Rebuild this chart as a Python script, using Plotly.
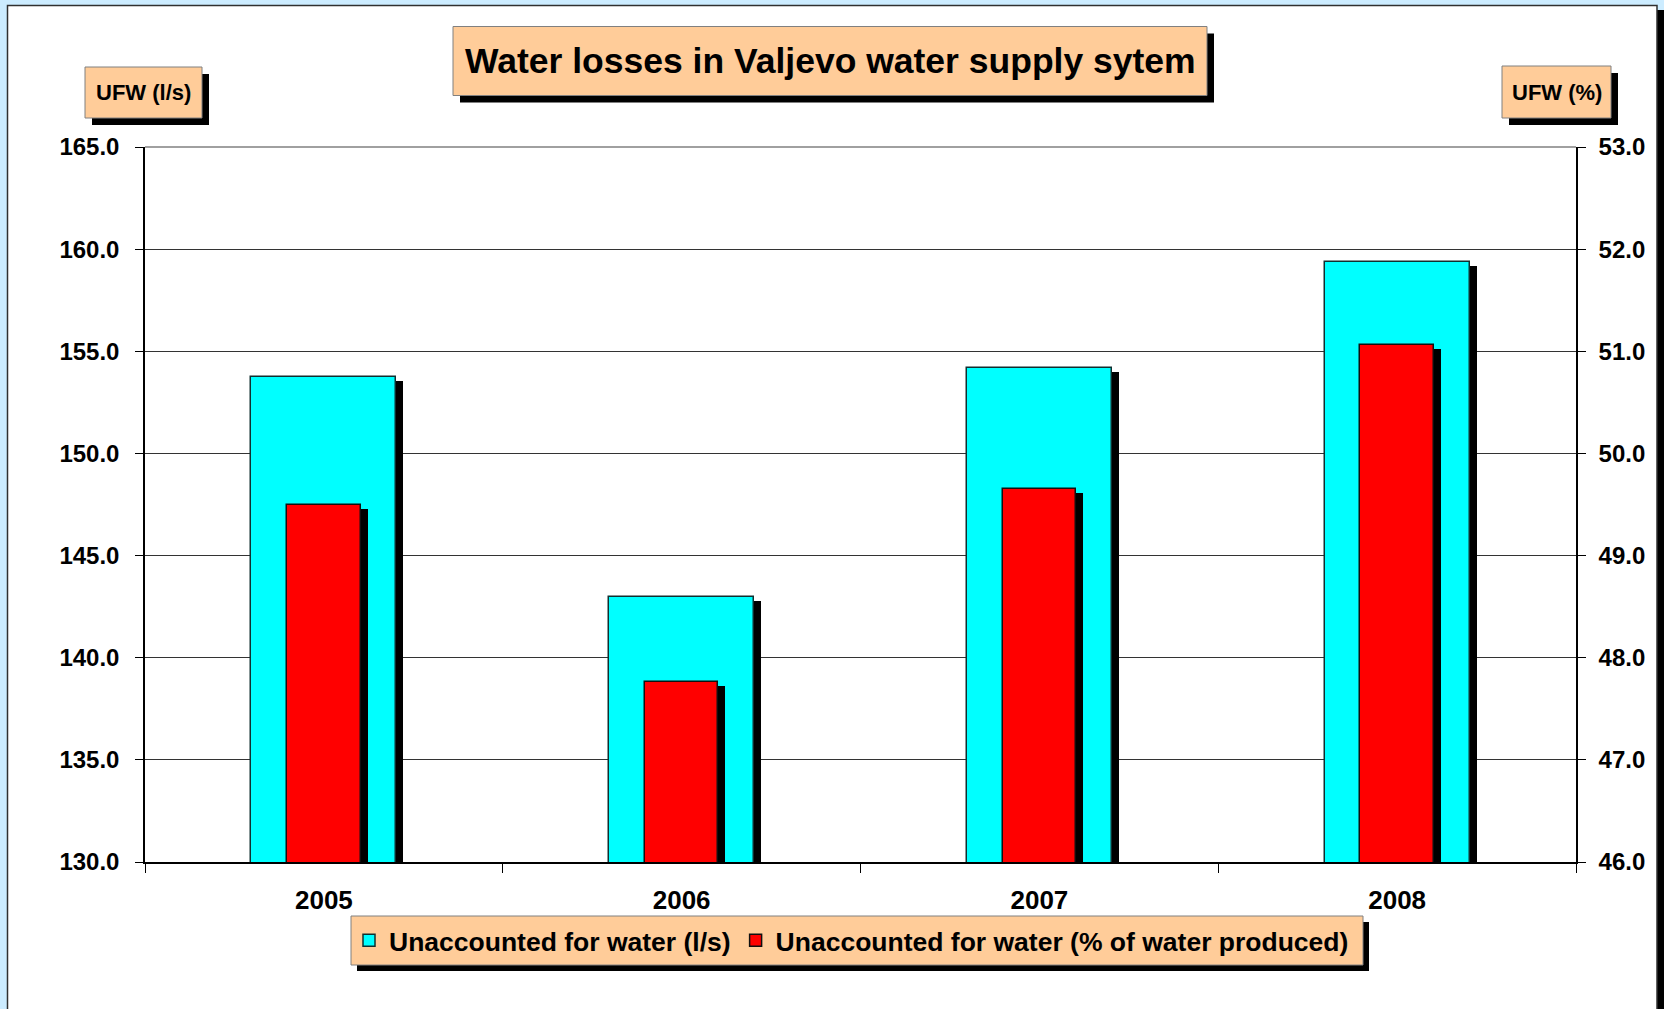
import plotly.graph_objects as go

# ---- data ----
years = ["2005", "2006", "2007", "2008"]
ufw_ls = [153.74, 142.97, 154.20, 159.36]      # Unaccounted for water (l/s), left axis
ufw_pct = [49.50, 47.76, 49.65, 51.06]         # Unaccounted for water (% of water produced), right axis
left_ticks = [130, 135, 140, 145, 150, 155, 160, 165]
right_ticks = [46, 47, 48, 49, 50, 51, 52, 53]

# ---- layout geometry (pixels) ----
FW, FH = 1664, 1009
L, R, T, B = 145, 1576, 147, 862
PW, PH = R - L, B - T

def px_x(p):
    return (p - L) / PW

def px_y(p):
    return (B - p) / PH

FONT = "Liberation Sans, Arial, sans-serif"
PEACH = "#FFCC99"

# shadow offsets expressed in axis units
cat_px = PW / len(years)
sh_dx = 7 / cat_px
sh_dy_left = 4 / (PH / (left_ticks[-1] - left_ticks[0]))
sh_dy_right = 4 / (PH / (right_ticks[-1] - right_ticks[0]))

w_c, w_r = 0.405, 0.205

fig = go.Figure()
fig.add_trace(go.Bar(x=years, y=[v - sh_dy_left for v in ufw_ls], width=w_c,
                     offset=-w_c / 2 + sh_dx, marker=dict(color="black", line=dict(width=0)),
                     showlegend=False, hoverinfo="skip", yaxis="y"))
fig.add_trace(go.Bar(x=years, y=ufw_ls, width=w_c, offset=-w_c / 2,
                     marker=dict(color="#00FFFF", line=dict(color="#103030", width=1.5)),
                     name="Unaccounted for water (l/s)", yaxis="y"))
fig.add_trace(go.Bar(x=years, y=[v - sh_dy_right for v in ufw_pct], width=w_r,
                     offset=-w_r / 2 + sh_dx, marker=dict(color="black", line=dict(width=0)),
                     showlegend=False, hoverinfo="skip", yaxis="y2"))
fig.add_trace(go.Bar(x=years, y=ufw_pct, width=w_r, offset=-w_r / 2,
                     marker=dict(color="#FF0000", line=dict(color="#101010", width=1.5)),
                     name="Unaccounted for water (% of water produced)", yaxis="y2"))

shapes = []
# page frame
shapes.append(dict(type="rect", xref="paper", yref="paper", x0=px_x(1657), x1=px_x(1664),
                   y0=px_y(10), y1=px_y(FH + 5), fillcolor="black", line=dict(width=0), layer="below"))
shapes.append(dict(type="rect", xref="paper", yref="paper", x0=px_x(7.5), x1=px_x(1657),
                   y0=px_y(5.5), y1=px_y(FH + 5), fillcolor="white",
                   line=dict(color="#303030", width=1.5), layer="below"))

def box_with_shadow(x0, y0, x1, y1, off=7):
    shapes.append(dict(type="rect", xref="paper", yref="paper", x0=px_x(x0 + off), x1=px_x(x1 + off),
                       y0=px_y(y0 + off), y1=px_y(y1 + off), fillcolor="black",
                       line=dict(width=0), layer="below"))
    shapes.append(dict(type="rect", xref="paper", yref="paper", x0=px_x(x0), x1=px_x(x1),
                       y0=px_y(y0), y1=px_y(y1), fillcolor=PEACH,
                       line=dict(color="#808080", width=1), layer="below"))

box_with_shadow(453, 26.5, 1207, 95.5)      # title
box_with_shadow(85, 67, 202, 118)           # left axis title
box_with_shadow(1502, 66, 1611, 118)        # right axis title
box_with_shadow(351, 916, 1363, 965, off=6)  # legend

# top border of plot area (grey)
shapes.append(dict(type="line", xref="paper", yref="paper", x0=0, x1=1, y0=1, y1=1,
                   line=dict(color="#808080", width=1.5), layer="above"))

annotations = [
    dict(text="Water losses in Valjevo water supply sytem", xref="paper", yref="paper",
         x=px_x(830), y=px_y(61), xanchor="center", yanchor="middle", showarrow=False,
         font=dict(family=FONT, size=35.5, color="black", weight="bold")),
    dict(text="UFW (l/s)", xref="paper", yref="paper",
         x=px_x(143.5), y=px_y(92.5), xanchor="center", yanchor="middle", showarrow=False,
         font=dict(family=FONT, size=22, color="black", weight="bold")),
    dict(text="UFW (%)", xref="paper", yref="paper",
         x=px_x(1556.5), y=px_y(92), xanchor="center", yanchor="middle", showarrow=False,
         font=dict(family=FONT, size=22, color="black", weight="bold")),
]

fig.update_layout(
    width=FW, height=FH,
    margin=dict(l=L, r=FW - R, t=T, b=FH - B, autoexpand=False),
    paper_bgcolor="#CCECFF",
    plot_bgcolor="#C0C0C0",
    barmode="overlay",
    bargap=0,
    shapes=shapes,
    annotations=annotations,
    showlegend=True,
    legend=dict(orientation="h", x=px_x(349), xanchor="left", y=px_y(940.5), yanchor="middle",
                bgcolor="rgba(0,0,0,0)", borderwidth=0,
                font=dict(family=FONT, size=26.5, color="black", weight="bold"),
                traceorder="normal", itemclick=False),
    xaxis=dict(type="category", categoryorder="array", categoryarray=years,
               showline=True, linecolor="black", linewidth=1.5,
               ticks="outside", ticklen=9, tickcolor="black", tickson="boundaries",
               ticklabelstandoff=14,
               tickfont=dict(family=FONT, size=26, color="black", weight="bold"),
               showgrid=False, zeroline=False, range=[-0.5, 3.5]),
    yaxis=dict(range=[left_ticks[0], left_ticks[-1]], tickvals=left_ticks, tickformat=".1f",
               showline=True, linecolor="black", linewidth=1.5,
               ticks="outside", ticklen=8, tickcolor="black", ticklabelstandoff=11,
               tickfont=dict(family=FONT, size=24, color="black", weight="bold"),
               showgrid=True, gridcolor="#333333", gridwidth=1, zeroline=False),
    yaxis2=dict(range=[right_ticks[0], right_ticks[-1]], tickvals=right_ticks, tickformat=".1f",
                overlaying="y", side="right",
                showline=True, linecolor="black", linewidth=1.5,
                ticks="outside", ticklen=8, tickcolor="black", ticklabelstandoff=8,
                tickfont=dict(family=FONT, size=24, color="black", weight="bold"),
                showgrid=False, zeroline=False),
)

fig.write_html("out.html", config={"displayModeBar": False},
               post_script="document.body.style.margin='0px';document.body.style.overflow='hidden';")
